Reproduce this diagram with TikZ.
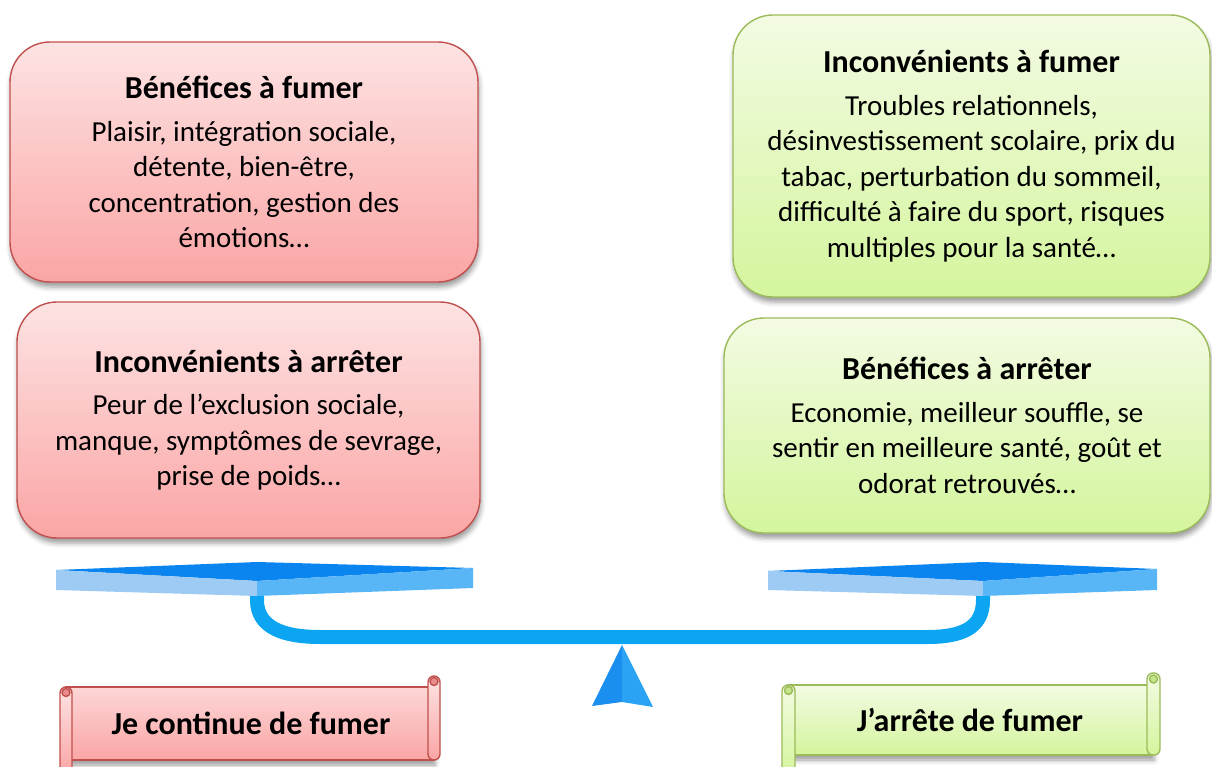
\documentclass[tikz,border=0pt]{standalone}
\usepackage{fontspec}
\setmainfont{Carlito}
\usetikzlibrary{shadows.blur}

\definecolor{redline}{HTML}{C0504D}
\definecolor{redtop}{HTML}{FDE3E3}
\definecolor{redbot}{HTML}{FBA5A5}
\definecolor{greenline}{HTML}{9BBB59}
\definecolor{greentop}{HTML}{F3FBE3}
\definecolor{greenbot}{HTML}{D4F59D}
\definecolor{beamblue}{HTML}{0BA5F2}
\definecolor{platetop}{HTML}{0A84EE}
\definecolor{plateleft}{HTML}{9DCBF4}
\definecolor{plateright}{HTML}{58B6F6}
\definecolor{pivotleft}{HTML}{1A8FEF}
\definecolor{pivotright}{HTML}{2AA3F4}

% bold heading line of a card, followed by a slightly larger gap
\newcommand\cardhead[1]{{\fontsize{32}{35.5}\selectfont\bfseries #1}\\[7pt]}

\begin{document}
\begin{tikzpicture}[x=1pt,y=-1pt,
  softshadow/.style={blur shadow={shadow xshift=1pt, shadow yshift=-5pt,
      shadow blur radius=5pt, shadow opacity=40}},
  card/.style={rounded corners=40pt, line width=1.4pt, align=center,
      inner sep=0pt, softshadow,
      font=\fontsize{29}{35.5}\selectfont},
  redcard/.style={card, draw=redline, top color=redtop, bottom color=redbot},
  greencard/.style={card, draw=greenline, top color=greentop, bottom color=greenbot},
  scrolltext/.style={font=\fontsize{32}{36}\selectfont\bfseries, inner sep=0pt},
  beam/.style={draw=beamblue, line width=14pt},
]
\useasboundingbox (0,0) rectangle (1212,767);

% ---------- argument cards ----------
\node[redcard, minimum width=468, minimum height=240] (benefumer) at (244,162)
  {\cardhead{Bénéfices à fumer}
   Plaisir, intégration sociale,\\ détente, bien-être,\\
   concentration, gestion des\\ émotions…};

\node[redcard, minimum width=463, minimum height=236] (inconvarret) at (248.5,420)
  {\cardhead{Inconvénients à arrêter}
   Peur de l’exclusion sociale,\\ manque, symptômes de sevrage,\\
   prise de poids…};

\node[greencard, minimum width=477, minimum height=282] (inconvfumer) at (971.5,156)
  {\cardhead{Inconvénients à fumer}
   Troubles relationnels,\\ désinvestissement scolaire, prix du\\
   tabac, perturbation du sommeil,\\ difficulté à faire du sport, risques\\
   multiples pour la santé…};

\node[greencard, minimum width=486, minimum height=215] (benearret) at (967,425.5)
  {\cardhead{Bénéfices à arrêter}
   Economie, meilleur souffle, se\\ sentir en meilleure santé, goût et\\
   odorat retrouvés…};

% ---------- balance ----------
\draw[beam] (257,588) -- (257,600) .. controls (257,628) and (284,637) .. (320,637)
  -- (927,637) .. controls (962,637) and (983,628) .. (983,600) -- (983,588);

% left plate
\fill[platetop]   (56,570) -- (257,562) -- (473,568) -- (257,581) -- cycle;
\fill[plateleft]  (56,570) -- (257,581) -- (257,596) -- (56,590) -- cycle;
\fill[plateright] (257,581) -- (473,568) -- (473,588) -- (257,596) -- cycle;
% right plate
\fill[platetop]   (768,571) -- (983,562) -- (1157,569) -- (983,581) -- cycle;
\fill[plateleft]  (768,571) -- (983,581) -- (983,596) -- (768,590) -- cycle;
\fill[plateright] (983,581) -- (1157,569) -- (1157,590) -- (983,596) -- cycle;

% pivot
\fill[pivotleft]  (622,645) -- (592,706) -- (622,702) -- cycle;
\fill[pivotright] (622,645) -- (622,702) -- (653,707) -- cycle;

% ---------- scrolls ----------
% left scroll (red)
\begin{scope}[line width=1.4pt]
  \fill[redbot, softshadow] (66,687) rectangle (434,760);
  \path[draw=redline, top color=redtop!80!redbot, bottom color=redbot]
    (66,687) rectangle (434,760);
  \path[draw=redline, top color=redtop, bottom color=redbot, rounded corners=6pt]
    (428,676) rectangle (440,760);
  \path[draw=redline, top color=redtop, bottom color=redbot, rounded corners=6pt]
    (60,687) rectangle (72,775);
  \path[draw=redline, fill=redbot!70!redline] (434,681.5) circle (4);
  \path[draw=redline, fill=redbot!70!redline] (66,692.5) circle (4);
\end{scope}
\node[scrolltext] (continue) at (251,723) {Je continue de fumer};

% right scroll (green)
\begin{scope}[line width=1.4pt]
  \fill[greenbot, softshadow] (788,685) rectangle (1153,755);
  \path[draw=greenline, top color=greentop, bottom color=greenbot]
    (788,685) rectangle (1153,755);
  \path[draw=greenline, top color=greentop, bottom color=greenbot, rounded corners=6pt]
    (1147,673) rectangle (1160,755);
  \path[draw=greenline, top color=greentop, bottom color=greenbot, rounded corners=6pt]
    (782,685) rectangle (795,775);
  \path[draw=greenline, fill=greenbot!70!greenline] (1153.5,679) circle (4);
  \path[draw=greenline, fill=greenbot!70!greenline] (788.5,690.5) circle (4);
\end{scope}
\node[scrolltext] (arrete) at (970,720) {J’arrête de fumer};
\end{tikzpicture}
\end{document}
